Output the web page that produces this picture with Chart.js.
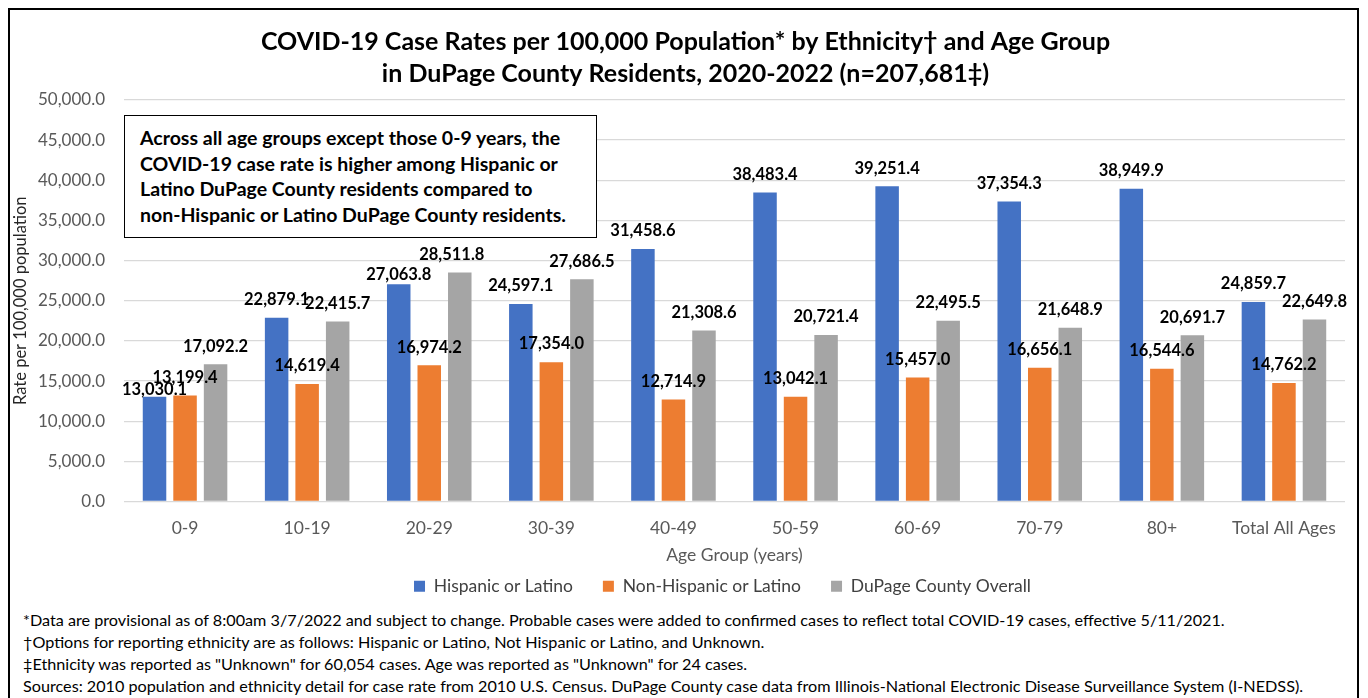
<!DOCTYPE html>
<html>
<head>
<meta charset="utf-8">
<script src="https://cdn.jsdelivr.net/npm/chart.js@4"></script>
<style>
  html, body { margin: 0; padding: 0; background: #fff; }
  body { width: 1368px; height: 698px; overflow: hidden; position: relative; font-family: Lato, 'Open Sans', sans-serif; }
  #frame { position: absolute; left: 8px; top: 8px; width: 1347px; height: 720px; border: 2px solid #000; }
  #wrap { position: absolute; left: 0; top: 0; width: 1368px; height: 605px; }
  #note { position: absolute; left: 124px; top: 115px; width: 456px; height: 112px; border: 1.5px solid #000; background: #fff;
          font-weight: 700; font-size: 19.5px; line-height: 25.5px; padding: 9px 0 0 15px; white-space: nowrap; color: #000; }
  #foot { position: absolute; left: 23px; top: 609px; font-size: 16.2px; line-height: 22px; color: #000; white-space: nowrap; }
</style>
</head>
<body>
<div id="frame"></div>
<div id="wrap"><canvas id="chart"></canvas></div>
<div id="note">Across all age groups except those 0-9 years, the<br>COVID-19 case rate is higher among Hispanic or<br>Latino DuPage County residents compared to<br>non-Hispanic or Latino DuPage County residents.</div>
<div id="foot">
  <div>*Data are provisional as of 8:00am 3/7/2022 and subject to change. Probable cases were added to confirmed cases to reflect total COVID-19 cases, effective 5/11/2021.</div>
  <div>†Options for reporting ethnicity are as follows: Hispanic or Latino, Not Hispanic or Latino, and Unknown.</div>
  <div>‡Ethnicity was reported as "Unknown" for 60,054 cases. Age was reported as "Unknown" for 24 cases.</div>
  <div>Sources: 2010 population and ethnicity detail for case rate from 2010 U.S. Census. DuPage County case data from Illinois-National Electronic Disease Surveillance System (I-NEDSS).</div>
</div>
<script>
const ageGroups = ['0-9', '10-19', '20-29', '30-39', '40-49', '50-59', '60-69', '70-79', '80+', 'Total All Ages'];
const hispanic = [13030.1, 22879.1, 27063.8, 24597.1, 31458.6, 38483.4, 39251.4, 37354.3, 38949.9, 24859.7];
const nonHispanic = [13199.4, 14619.4, 16974.2, 17354.0, 12714.9, 13042.1, 15457.0, 16656.1, 16544.6, 14762.2];
const overall = [17092.2, 22415.7, 28511.8, 27686.5, 21308.6, 20721.4, 22495.5, 21648.9, 20691.7, 22649.8];

const titleLines = [
  'COVID-19 Case Rates per 100,000 Population* by Ethnicity\u2020 and Age Group',
  'in DuPage County Residents, 2020-2022 (n=207,681\u2021)'
];

// a few labels were dragged off their default spot in the original
const labelNudge = { '0-0': [0, 11], '0-2': [0, 8], '2-2': [-8, 0] };

function fmt(v) {
  return Number(v).toLocaleString('en-US', { minimumFractionDigits: 1, maximumFractionDigits: 1 });
}

const barLabels = {
  id: 'barLabels',
  afterDatasetsDraw(chart) {
    const ctx = chart.ctx;
    ctx.save();
    ctx.font = 'bold 16.5px Lato';
    ctx.fillStyle = '#000';
    ctx.textAlign = 'center';
    ctx.textBaseline = 'middle';
    chart.data.datasets.forEach((ds, di) => {
      chart.getDatasetMeta(di).data.forEach((bar, i) => {
        const n = labelNudge[di + '-' + i] || [0, 0];
        ctx.fillText(fmt(ds.data[i]), bar.x + n[0], bar.y - 18 + n[1]);
      });
    });
    ctx.restore();
  }
};

// title and legend in the original sit a bit right of the canvas centre
const shiftBlocks = {
  id: 'shiftBlocks',
  afterLayout(chart) {
    chart.legend.left += 50;
    chart.legend.right += 50;
    chart.titleBlock.left += 13;
    chart.titleBlock.right += 13;
  }
};

const tickFont = { family: 'Lato', size: 17 };
const labelFont = { family: 'Lato', size: 17.5 };

new Chart(document.getElementById('chart'), {
  type: 'bar',
  data: {
    labels: ageGroups,
    datasets: [
      { label: 'Hispanic or Latino', data: hispanic, backgroundColor: '#4472C4' },
      { label: 'Non-Hispanic or Latino', data: nonHispanic, backgroundColor: '#ED7D31' },
      { label: 'DuPage County Overall', data: overall, backgroundColor: '#A5A5A5' },
    ]
  },
  options: {
    animation: false,
    responsive: true,
    maintainAspectRatio: false,
    devicePixelRatio: 1,
    categoryPercentage: 0.75,
    barPercentage: 0.77,
    layout: { padding: { left: 0, right: 23, top: 0, bottom: 0 } },
    scales: {
      x: {
        grid: { display: false, drawTicks: false },
        border: { display: false },
        ticks: { color: '#595959', font: labelFont, padding: 16 },
        title: { display: true, text: 'Age Group (years)', color: '#595959', font: labelFont, padding: { top: 0, bottom: -18 } },
        afterFit(scale) { scale.height = 46; }
      },
      y: {
        min: 0,
        max: 50000,
        grid: { color: '#D9D9D9', lineWidth: 1.3, drawTicks: false },
        border: { display: false },
        ticks: { stepSize: 5000, color: '#595959', font: tickFont, padding: 19, callback: v => fmt(v) },
        title: { display: true, text: 'Rate per 100,000 population', color: '#262626', font: { family: 'Lato', size: 16.5 }, padding: { top: 11, bottom: 0 } },
        afterFit(scale) { scale.width = 124; }
      }
    },
    plugins: {
      title: {
        display: true,
        text: titleLines,
        color: '#000',
        font: { family: 'Lato', size: 25, weight: 'bold', lineHeight: 1.28 },
        padding: { top: 26, bottom: 10 }
      },
      legend: {
        position: 'bottom',
        labels: { boxWidth: 11, boxHeight: 11, padding: 30, color: '#404040', font: labelFont }
      },
      tooltip: { enabled: false }
    }
  },
  plugins: [barLabels, shiftBlocks]
});
</script>
</body>
</html>
